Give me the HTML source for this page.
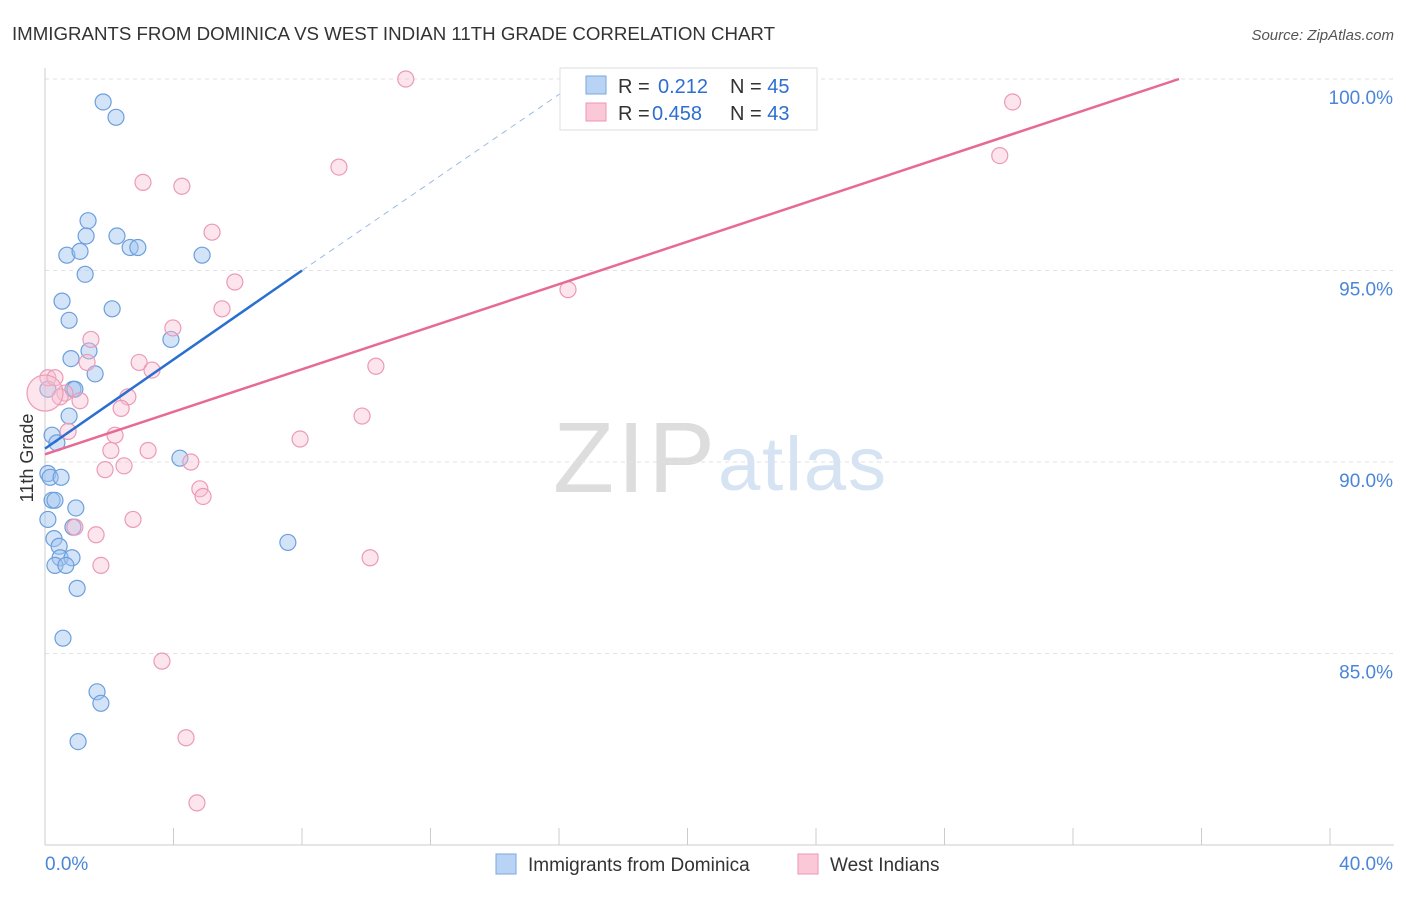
<!DOCTYPE html>
<html><head><meta charset="utf-8">
<style>
body{margin:0;background:#fff;font-family:"Liberation Sans",sans-serif;}
svg text{font-family:"Liberation Sans",sans-serif;}
</style></head>
<body>
<svg id="c" width="1406" height="892">
<text x="12" y="40" font-size="18.7" fill="#333" textLength="763">IMMIGRANTS FROM DOMINICA VS WEST INDIAN 11TH GRADE CORRELATION CHART</text>
<text x="1394" y="40" font-size="15" fill="#555" text-anchor="end" font-style="italic">Source: ZipAtlas.com</text>
<text x="553" y="492" font-size="100" fill="#ddd" font-family="Liberation Serif" textLength="162">ZIP</text>
<text x="718" y="490" font-size="76" fill="#d5e3f3" textLength="168">atlas</text>
<text transform="translate(33,458) rotate(-90)" font-size="18" fill="#333" text-anchor="middle">11th Grade</text>
<g id="grid"></g><g id="pts"></g><g id="lines"></g>
<g>
<rect x="560" y="68" width="257" height="62" fill="#fff" stroke="#ddd"/>
<rect x="586" y="76" width="20" height="18" fill="#b9d3f5" stroke="#7aa7e0"/>
<rect x="586" y="103" width="20" height="18" fill="#fbc8d8" stroke="#ef94b3"/>
<text x="618" y="93" font-size="20" fill="#333">R = <tspan x="658" fill="#2c6fd0">0.212</tspan><tspan x="730">N = </tspan><tspan fill="#2c6fd0">45</tspan></text>
<text x="618" y="120" font-size="20" fill="#333">R = <tspan x="652" fill="#2c6fd0">0.458</tspan><tspan x="730">N = </tspan><tspan fill="#2c6fd0">43</tspan></text>
</g>
<g>
<rect x="496" y="854" width="20" height="20" fill="#b9d3f5" stroke="#7aa7e0"/>
<text x="528" y="871" font-size="19" fill="#333">Immigrants from Dominica</text>
<rect x="798" y="854" width="20" height="20" fill="#fbc8d8" stroke="#ef94b3"/>
<text x="830" y="871" font-size="19" fill="#333">West Indians</text>
</g>
</svg>
<script>
const xTicks=[0,4,8,12,16,20,24,28,32,36,40];
const yTicks=[85,90,95,100];
const blueX=[1.81,2.21,1.34,1.28,2.24,2.65,2.89,0.68,1.09,4.89,1.25,0.53,2.09,0.75,3.92,1.37,0.81,1.56,0.09,0.87,0.93,0.75,0.22,0.37,4.20,0.09,0.16,0.50,0.22,0.31,0.96,0.09,0.87,0.28,0.44,0.47,0.84,0.31,0.65,1.00,7.56,0.56,1.62,1.74,1.03];
const blueY=[99.4,99.0,96.3,95.9,95.9,95.6,95.6,95.4,95.5,95.4,94.9,94.2,94.0,93.7,93.2,92.9,92.7,92.3,91.9,91.9,91.9,91.2,90.7,90.5,90.1,89.7,89.6,89.6,89.0,89.0,88.8,88.5,88.3,88.0,87.8,87.5,87.5,87.3,87.3,86.7,87.9,85.4,84.0,83.7,82.7];
const pinkX=[11.23,30.12,29.72,9.15,3.05,4.26,5.20,5.91,16.28,5.51,3.98,1.43,1.31,2.93,3.33,10.30,0.09,0.31,0.62,0.47,2.58,1.09,2.37,9.87,2.18,0.72,7.94,3.21,2.05,4.54,2.46,1.87,4.82,4.92,2.74,0.93,1.59,10.12,1.74,3.64,4.39,4.73,0.0];
const pinkY=[100.0,99.4,98.0,97.7,97.3,97.2,96.0,94.7,94.5,94.0,93.5,93.2,92.6,92.6,92.4,92.5,92.2,92.2,91.8,91.7,91.7,91.6,91.4,91.2,90.7,90.8,90.6,90.3,90.3,90.0,89.9,89.8,89.3,89.1,88.5,88.3,88.1,87.5,87.3,84.8,82.8,81.1,91.8];
const blueLine=[0,90.35,8.0,95.0];
const blueDash=[8.0,95.0,16.7,100.0];
const pinkLine=[0,90.2,35.3,100.0];
const X=v=>45+v/40*1285, Y=v=>79+(100-v)*38.3;
const ns='http://www.w3.org/2000/svg';
function mk(t,a,p){const e=document.createElementNS(ns,t);for(const k in a)e.setAttribute(k,a[k]);p.appendChild(e);return e;}
const g=document.getElementById('grid');
yTicks.forEach(t=>{const l=mk('line',{x1:45,x2:1394,y1:Y(t),y2:Y(t),stroke:'#e2e2e2','stroke-dasharray':'4,4'},g);

const tx=mk('text',{x:1393,y:Y(t)+25,'font-size':19,fill:'#4a86d8','text-anchor':'end'},g);tx.textContent=t.toFixed(1)+'%';
});
const ax=mk('line',{x1:45,x2:45,y1:68,y2:845,stroke:'#ccc'},g);

const bx=mk('line',{x1:45,x2:1394,y1:845,y2:845,stroke:'#ccc'},g);

xTicks.forEach(t=>{const l=mk('line',{x1:X(t),x2:X(t),y1:828,y2:845,stroke:'#ccc'},g);
});
[[0,'start'],[40,'end']].forEach(([t,a])=>{const tx=mk('text',{x:t?1393:45,y:870,'font-size':19,fill:'#4a86d8','text-anchor':a},g);tx.textContent=t.toFixed(1)+'%';
});
const p=document.getElementById('pts');
blueX.forEach((v,i)=>{const c=mk('circle',{cx:X(v),cy:Y(blueY[i]),r:8,fill:'rgba(160,196,240,0.45)',stroke:'#6c9fdc','stroke-width':1.2},p);
});
pinkX.forEach((v,i)=>{const c=mk('circle',{cx:X(v),cy:Y(pinkY[i]),r:i==pinkX.length-1?18:8,fill:'rgba(248,190,208,0.4)',stroke:'#ec9ab6','stroke-width':1.2},p);
});
const L=document.getElementById('lines');
const b=mk('line',{x1:X(blueLine[0]),y1:Y(blueLine[1]),x2:X(blueLine[2]),y2:Y(blueLine[3]),stroke:'#2a6fd0','stroke-width':2.5},L);

const bd=mk('line',{x1:X(blueDash[0]),y1:Y(blueDash[1]),x2:X(blueDash[2]),y2:Y(blueDash[3]),stroke:'#9bbbe6','stroke-width':1,'stroke-dasharray':'6,5'},L);

const pl=mk('line',{x1:X(pinkLine[0]),y1:Y(pinkLine[1]),x2:X(pinkLine[2]),y2:Y(pinkLine[3]),stroke:'#e76a96','stroke-width':2.5},L);

</script>
</body></html>
